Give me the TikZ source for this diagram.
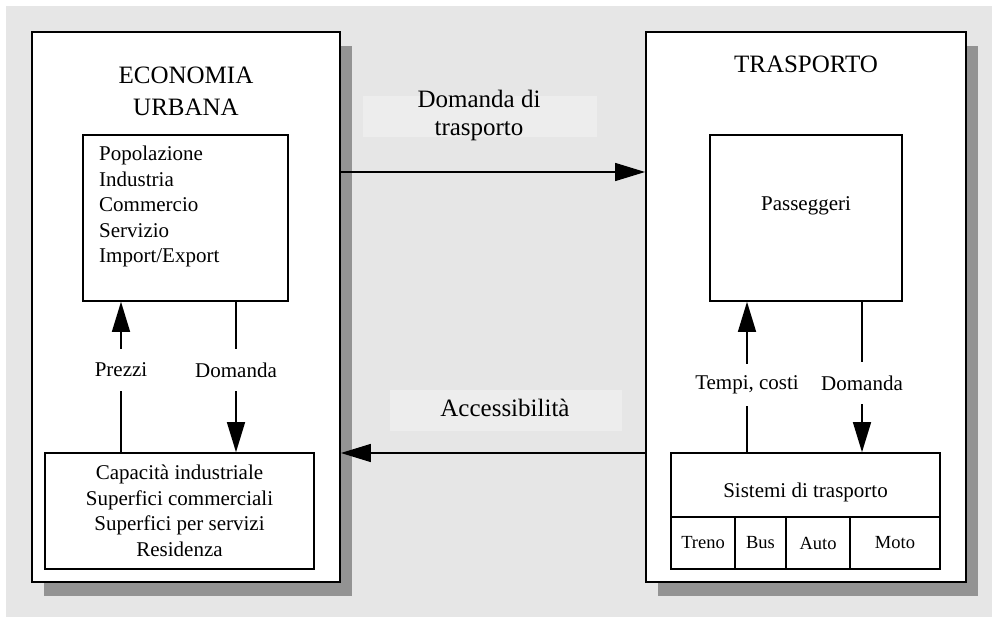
\documentclass[tikz,border=0pt]{standalone}
\usepackage{fontspec}
\setmainfont{Liberation Serif}
\usetikzlibrary{arrows.meta,shadows}

\definecolor{bggray}{HTML}{E6E6E6}
\definecolor{shadowgray}{HTML}{939393}
\definecolor{labgray}{HTML}{EDEDED}

\begin{document}
\begin{tikzpicture}[x=1pt, y=-1pt,
    outer/.style={shape=rectangle, draw=black, fill=white, line width=1.8pt, inner sep=0pt,
        general shadow={fill=shadowgray, shadow xshift=12pt, shadow yshift=-14pt}},
    inbox/.style={shape=rectangle, draw=black, fill=white, line width=1.6pt, inner sep=0pt},
    cell/.style={shape=rectangle, draw=black, line width=1.4pt, inner sep=0pt,
        minimum height=52pt, font=\fontsize{18.5}{22}\selectfont},
    txt/.style={inner sep=0pt, font=\fontsize{21}{25.5}\selectfont},
    big/.style={inner sep=0pt, font=\fontsize{25}{28}\selectfont},
    labbg/.style={shape=rectangle, fill=labgray, minimum height=41pt, inner sep=0pt},
    arr/.style={line width=1.4pt, -{Triangle[length=30pt,width=18pt]}},
    lab/.style={fill=white, inner xsep=3pt, inner ysep=0pt, minimum height=42pt,
        font=\fontsize{21}{25.5}\selectfont}
]

    \useasboundingbox (0,0) rectangle (992,617);
    \fill[bggray] (6,6) rectangle (992,617);

    % the two big blocks
    \node[outer, minimum width=308pt, minimum height=550pt] (EcoUrb) at (186,307) {};
    \node[outer, minimum width=320pt, minimum height=550pt] (Trasp) at (806,307) {};

    \node[big, align=center, font=\fontsize{25}{32}\selectfont] (EcoTitle) at (186,91) {ECONOMIA\\URBANA};
    \node[big] (TraspTitle) at (806,64) {TRASPORTO};

    % labels between the blocks
    \node[labbg, minimum width=234pt] (DomTrBg) at (480,116.5) {};
    \node[big, align=center] (DomTr) at (479,115) {Domanda di\\trasporto};
    \node[labbg, minimum width=232pt] (AccBg) at (506,410.5) {};
    \node[big] (Acc) at (505,407.5) {Accessibilità};

    % economia urbana
    \node[inbox, minimum width=205pt, minimum height=166pt] (PopInd) at (185.5,218) {};
    \node[txt, align=left, anchor=north west] (PopText) at (99,146) {
        Popolazione\\
        Industria\\
        Commercio\\
        Servizio\\
        Import/Export
    };

    \node[inbox, txt, align=center, minimum width=269pt, minimum height=116pt] (CapInd) at (179.5,511) {
        Capacità industriale\\
        Superfici commerciali\\
        Superfici per servizi\\
        Residenza
    };

    % trasporto
    \node[inbox, minimum width=192pt, minimum height=166pt] (Pass) at (806,218) {};
    \node[txt] (PassText) at (806,206) {Passeggeri};

    \node[inbox, minimum width=269pt, minimum height=64pt] (SisTr) at (805.5,485) {};
    \node[txt] (SisText) at (805.5,492) {Sistemi di trasporto};

    \node[cell, minimum width=64pt] (Treno) at (703,543) {Treno};
    \node[cell, minimum width=51pt] (Bus) at (760.5,543) {Bus};
    \node[cell, minimum width=64pt] (Auto) at (818,543) {Auto};
    \node[cell, minimum width=90pt] (Moto) at (895,543) {Moto};

    % where the arrows run
    \coordinate (PrezziX) at (121,0);
    \coordinate (DomLX) at (236,0);
    \coordinate (TempiX) at (747,0);
    \coordinate (DomRX) at (862,0);
    \coordinate (DomTrY) at (0,172);
    \coordinate (AccY) at (0,453);

    \draw[arr] (CapInd.north -| PrezziX) -- node[lab, pos=0.546] (PrezziLab) {Prezzi} (PopInd.south -| PrezziX);
    \draw[arr] (PopInd.south -| DomLX) -- node[lab, pos=0.454] (DomLLab) {Domanda} (CapInd.north -| DomLX);
    \draw[arr] (SisTr.north -| TempiX) -- node[lab, pos=0.447] (TempiLab) {Tempi, costi} (Pass.south -| TempiX);
    \draw[arr] (Pass.south -| DomRX) -- node[lab, pos=0.54] (DomRLab) {Domanda} (SisTr.north -| DomRX);

    \draw[arr] (EcoUrb.east |- DomTrY) -- (Trasp.west |- DomTrY);
    \draw[arr] (Trasp.west |- AccY) -- (EcoUrb.east |- AccY);

\end{tikzpicture}
\end{document}
